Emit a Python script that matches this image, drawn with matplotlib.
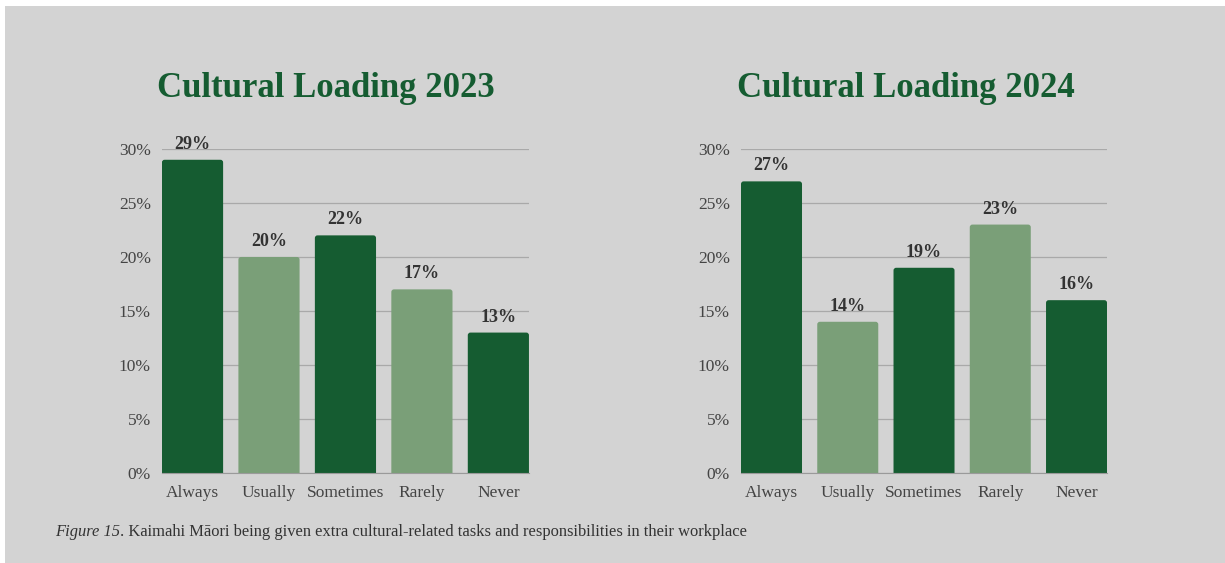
import matplotlib.pyplot as plt
from matplotlib.patches import FancyBboxPatch, Rectangle

categories = ["Always", "Usually", "Sometimes", "Rarely", "Never"]
values_2023 = [29, 20, 22, 17, 13]
values_2024 = [27, 14, 19, 23, 16]
yticks = [0, 5, 10, 15, 20, 25, 30]

dark_green = "#155c31"
light_green = "#7a9f78"
bar_colors = [dark_green, light_green, dark_green, light_green, dark_green]
bg = "#d3d3d3"
text_grey = "#444444"

plt.rcParams["font.family"] = ["Liberation Serif", "DejaVu Serif"]

fig = plt.figure(figsize=(12.25, 5.63), dpi=100, facecolor="white")
# grey panel with a thin white margin on the top and left
fig.patches.append(Rectangle((5 / 1225, 0), 1, 1 - 6 / 563, transform=fig.transFigure,
                             facecolor=bg, edgecolor="none", zorder=-5))


def draw_panel(ax, values, title, title_x):
    ax.set_zorder(2)
    ax.patch.set_visible(False)
    x = range(len(categories))
    bars = ax.bar(x, values, width=0.8, color=bar_colors, zorder=2)
    # swap the square bars for ones with slightly rounded corners
    for b, c in zip(bars, bar_colors):
        b.set_visible(False)
        p = FancyBboxPatch((b.get_x(), -2), b.get_width(), b.get_height() + 2,
                           boxstyle="round,pad=0,rounding_size=0.035",
                           mutation_aspect=7.0, facecolor=c, edgecolor="none",
                           zorder=2)
        ax.add_patch(p)
        ax.annotate(f"{b.get_height():.0f}%", (b.get_x() + b.get_width() / 2, b.get_height()),
                    xytext=(0, 5), textcoords="offset points", ha="center", va="bottom",
                    fontsize=13, fontweight="bold", color="#333333", zorder=3)
    ax.set_xlim(-0.4, len(categories) - 0.6)
    ax.set_ylim(0, 30)
    ax.set_yticks(yticks)
    ax.set_yticklabels([f"{t}%" for t in yticks])
    ax.set_xticks(list(x))
    ax.set_xticklabels(categories)
    ax.tick_params(length=0, labelsize=12.5, labelcolor=text_grey)
    ax.tick_params(axis="y", pad=8)
    ax.tick_params(axis="x", pad=9)
    ax.grid(axis="y", color="#a9a9a9", linewidth=0.9, zorder=1)
    for s in ["top", "right", "left"]:
        ax.spines[s].set_visible(False)
    ax.spines["bottom"].set_color("#9a9a9a")
    ax.spines["bottom"].set_zorder(3)
    fig.text(title_x, 0.842, title, ha="center", va="center", fontsize=25,
             fontweight="bold", color=dark_green)


ax1 = fig.add_axes([0.1322, 0.1599, 0.2996, 0.5755])
ax2 = fig.add_axes([0.6049, 0.1599, 0.2988, 0.5755])
draw_panel(ax1, values_2023, "Cultural Loading 2023", 0.266)
draw_panel(ax2, values_2024, "Cultural Loading 2024", 0.7396)

t = fig.text(0.045, 0.055, "Figure 15", fontsize=11.9, style="italic", color="#333333",
             ha="left", va="center")
fig.canvas.draw()
bb = t.get_window_extent()
fig.text(bb.x1 / fig.bbox.width, 0.055,
         ". Kaimahi Māori being given extra cultural-related tasks and responsibilities in their workplace",
         fontsize=11.9, color="#333333", ha="left", va="center")

fig.savefig("out.png", dpi=100, facecolor="white")
